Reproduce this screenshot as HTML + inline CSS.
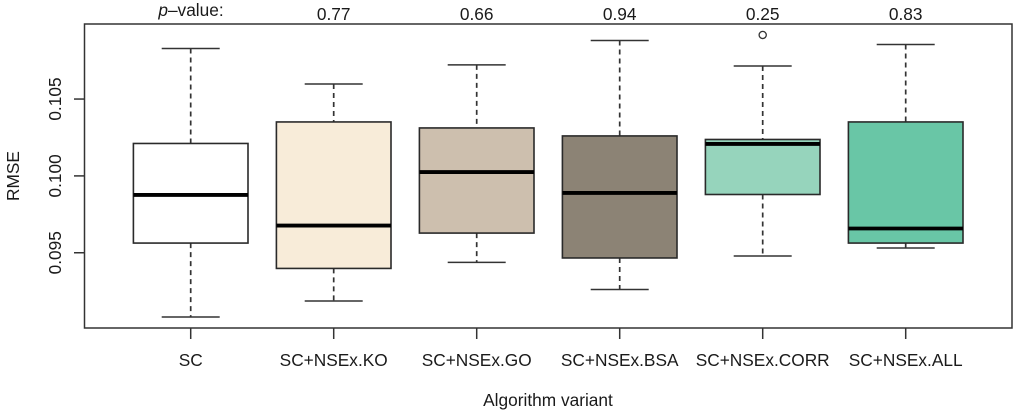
<!DOCTYPE html>
<html lang="en">
<head>
<meta charset="utf-8">
<title>RMSE by algorithm variant</title>
<style>
html,body{margin:0;padding:0;background:#fff;width:1024px;height:416px;overflow:hidden}
svg{display:block;filter:blur(0.3px)}
text{font-family:"Liberation Sans",sans-serif;fill:#1a1a1a;font-size:17.3px}
</style>
</head>
<body>
<svg id="chart" xmlns="http://www.w3.org/2000/svg" width="1024" height="416" viewBox="0 0 1024 416">
<rect x="84.5" y="24" width="927.5" height="304" fill="none" stroke="#333" stroke-width="1.5"/>
<text x="548" y="406" text-anchor="middle">Algorithm variant</text>
<text transform="translate(19,176) rotate(-90)" text-anchor="middle">RMSE</text>
<text x="191" y="16" text-anchor="middle"><tspan font-style="italic">p</tspan>–value:</text>
</svg>
<script>
const categories = ['SC','SC+NSEx.KO','SC+NSEx.GO','SC+NSEx.BSA','SC+NSEx.CORR','SC+NSEx.ALL'];
const whiskerHigh = [0.10829,0.10598,0.10722,0.10881,0.10715,0.10855];
const quartile3 = [0.10211,0.10351,0.10312,0.10260,0.10237,0.10351];
const medians = [0.09876,0.09677,0.10025,0.09889,0.10208,0.09658];
const quartile1 = [0.09563,0.09398,0.09628,0.09466,0.09879,0.09563];
const whiskerLow = [0.09082,0.09186,0.09437,0.09261,0.09479,0.09531];
const outliers = [[],[],[],[],[0.10917],[]];
const fills = ['#ffffff','#f8ecd9','#cdbfae','#8c8375','#96d4bc','#69c6a6'];
const pValues = ['','0.77','0.66','0.94','0.25','0.83'];
const yTicks = [0.095,0.100,0.105];
const yTickLabels = ['0.095','0.100','0.105'];

const svg = document.getElementById('chart');
const NS = 'http://www.w3.org/2000/svg';
const xScale = i => 190.7 + i * 143.0;
const yScale = v => 175.9 - (v - 0.1) * 15370;
const BOX_HALF = 57.3;
const CAP_HALF = 29;
const PLOT_BOTTOM = 328;
const PLOT_LEFT = 84.5;

function make(tag, attrs, text) {
  const el = document.createElementNS(NS, tag);
  for (const k in attrs) el.setAttribute(k, attrs[k]);
  if (text !== undefined) el.textContent = text;
  svg.appendChild(el);
  return el;
}
function seg(x1, y1, x2, y2, extra) {
  return make('line', Object.assign({x1, y1, x2, y2, stroke:'#333', 'stroke-width':1.5}, extra || {}));
}

yTicks.forEach((t, i) => {
  const y = yScale(t);
  const tick = seg(PLOT_LEFT - 10.5, y, PLOT_LEFT, y);
  
  
  const lab = make('text', {transform:`translate(61,${y}) rotate(-90)`, 'text-anchor':'middle'}, yTickLabels[i]);
  
  
});

categories.forEach((c, i) => {
  const x = xScale(i);
  const tick = seg(x, PLOT_BOTTOM, x, PLOT_BOTTOM + 11);
  
  
  const lab = make('text', {x, y: 366, 'text-anchor':'middle'}, c);
  
  

  if (pValues[i]) {
    const p = make('text', {x, y: 20, 'text-anchor':'middle'}, pValues[i]);
    
    
  }

  const upper = seg(x, yScale(whiskerHigh[i]), x, yScale(quartile3[i]), {'stroke-dasharray':'5 4', 'stroke-width':1.7});
  
  
  const lower = seg(x, yScale(quartile1[i]), x, yScale(whiskerLow[i]), {'stroke-dasharray':'5 4', 'stroke-width':1.7});
  
  
  const capHigh = seg(x - CAP_HALF, yScale(whiskerHigh[i]), x + CAP_HALF, yScale(whiskerHigh[i]));
  
  
  const capLow = seg(x - CAP_HALF, yScale(whiskerLow[i]), x + CAP_HALF, yScale(whiskerLow[i]));
  
  

  const top = yScale(quartile3[i]);
  const box = make('rect', {x: x - BOX_HALF, y: top, width: BOX_HALF * 2, height: yScale(quartile1[i]) - top, fill: fills[i], stroke:'#2a2a2a', 'stroke-width':1.6});
  
  
  const med = seg(x - BOX_HALF, yScale(medians[i]), x + BOX_HALF, yScale(medians[i]), {stroke:'#000', 'stroke-width':3.8});
  
  

  outliers[i].forEach(v => {
    const o = make('circle', {cx: x, cy: yScale(v), r: 3.6, fill:'none', stroke:'#333', 'stroke-width':1.3});
    
    
  });
});
</script>
</body>
</html>
